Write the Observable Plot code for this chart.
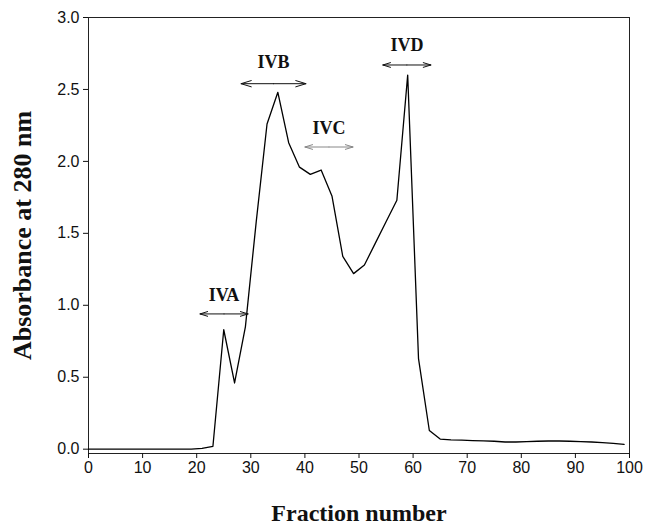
<!DOCTYPE html>
<html>
<head>
<meta charset="utf-8">
<script src="https://cdn.jsdelivr.net/npm/d3@7"></script>
<script src="https://cdn.jsdelivr.net/npm/@observablehq/plot@0.6"></script>
<style>
  html, body { margin: 0; padding: 0; background: #fff; }
</style>
</head>
<body>
<div id="chart"></div>
<script>
// Elution profile: fraction number vs absorbance at 280 nm
const fractions = [0, 1, 3, 5, 7, 9, 11, 13, 15, 17, 19, 21, 23, 25, 27, 29, 31, 33, 35, 37, 39,
  41, 43, 45, 47, 49, 51, 53, 55, 57, 59, 61, 63, 65, 67, 69, 71, 73, 75, 77, 79,
  81, 83, 85, 87, 89, 91, 93, 95, 97, 99];
const absorbance = [0, 0, 0, 0, 0, 0, 0, 0, 0, 0, 0, 0.005, 0.02, 0.83, 0.46, 0.85, 1.58, 2.26, 2.48, 2.13, 1.96,
  1.91, 1.94, 1.76, 1.34, 1.22, 1.28, 1.43, 1.58, 1.73, 2.6, 0.63, 0.13, 0.07, 0.065, 0.063, 0.06, 0.058, 0.055, 0.05, 0.05,
  0.052, 0.055, 0.057, 0.057, 0.055, 0.053, 0.05, 0.045, 0.04, 0.033];

// Peak pool annotations
const peakNames = ["IVA", "IVB", "IVC", "IVD"];
const arrowStart = [20.6, 28.2, 40.0, 54.4];
const arrowEnd = [29.5, 40.2, 48.9, 63.3];
const arrowY = [0.94, 2.54, 2.10, 2.67];
const labelY = [1.07, 2.69, 2.23, 2.81];
const arrowColor = ["#111", "#111", "#888", "#111"];

const xTicks = [0, 10, 20, 30, 40, 50, 60, 70, 80, 90, 100];
const yTicks = [0, 0.5, 1.0, 1.5, 2.0, 2.5, 3.0];

const profile = fractions.map((f, i) => ({f, a: absorbance[i]}));
const peaks = peakNames.map((name, i) => ({
  name, x1: arrowStart[i], x2: arrowEnd[i], mid: (arrowStart[i] + arrowEnd[i]) / 2,
  y: arrowY[i], ly: labelY[i], color: arrowColor[i]
}));
const halfArrows = peaks.flatMap(p => [
  {x1: p.mid, x2: p.x1, y: p.y, color: p.color},
  {x1: p.mid, x2: p.x2, y: p.y, color: p.color}
]);

const serif = "'Liberation Serif', 'Times New Roman', serif";

const chart = Plot.plot({
  width: 649,
  height: 525,
  marginTop: 17,
  marginRight: 20,
  marginBottom: 72,
  marginLeft: 88,
  style: {fontFamily: "'Liberation Sans', Arial, sans-serif", fontSize: "16px", color: "#111", background: "#fff"},
  x: {domain: [0, 100], ticks: xTicks},
  y: {domain: [-0.03, 3.0], ticks: yTicks},
  marks: [
    Plot.frame({stroke: "#222", strokeWidth: 1}),
    Plot.axisX({ticks: xTicks, tickSize: 5, tickPadding: 3, label: null, fontSize: 16}),
    Plot.axisY({ticks: yTicks, tickSize: 5, tickPadding: 4, tickFormat: d3.format(".1f"), label: null, fontSize: 16}),
    Plot.line(profile, {x: "f", y: "a", stroke: "#000", strokeWidth: 1.3}),
    Plot.arrow(halfArrows, {x1: "x1", x2: "x2", y1: "y", y2: "y", stroke: "color", strokeWidth: 1, headLength: 16, headAngle: 34, insetEnd: 0}),
    Plot.text(peaks, {x: "mid", y: "ly", text: "name", fontFamily: serif, fontWeight: "bold", fontSize: 18, fill: "#111"}),
    Plot.text(["Fraction number"], {frameAnchor: "bottom", dy: 67, fontFamily: serif, fontWeight: "bold", fontSize: 24, fill: "#111"}),
    Plot.text(["Absorbance at 280 nm"], {frameAnchor: "left", textAnchor: "middle", dx: -66, rotate: -90, fontFamily: serif, fontWeight: "bold", fontSize: 26, fill: "#111"})
  ]
});
document.getElementById("chart").appendChild(chart);
</script>
</body>
</html>
